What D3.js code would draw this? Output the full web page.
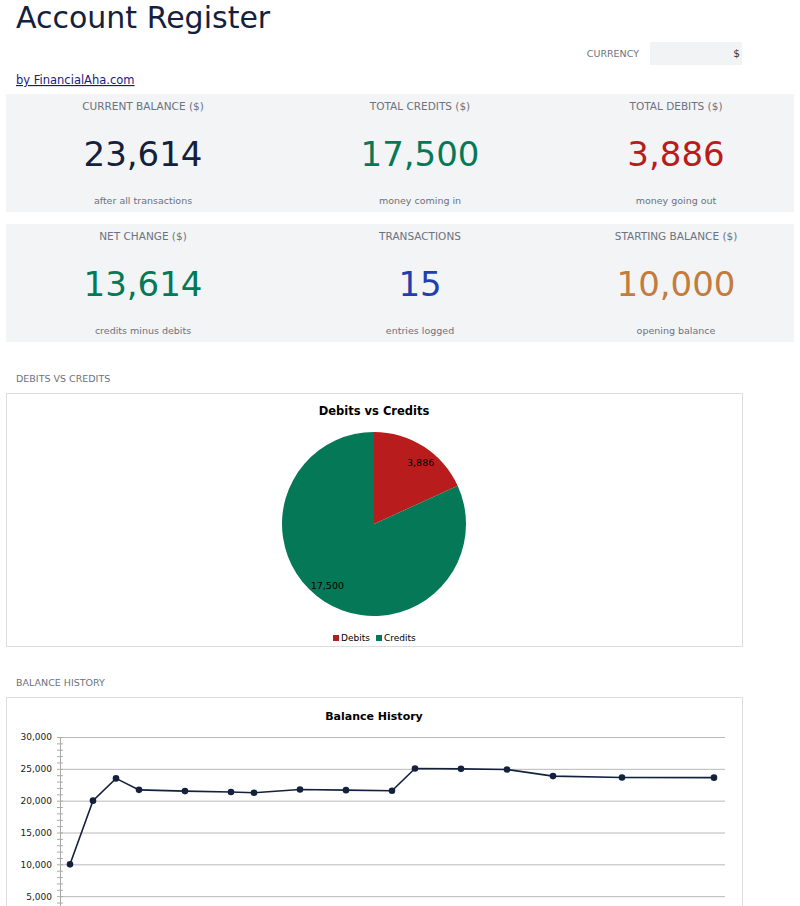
<!DOCTYPE html>
<html>
<head>
<meta charset="utf-8">
<script src="https://cdn.jsdelivr.net/npm/d3@7"></script>
<style>
body { margin: 0; background: #fff; overflow: hidden; font-family: "DejaVu Sans", sans-serif; }
</style>
</head>
<body>
<svg id="page" width="800" height="906"></svg>
<script>
// summary cards
const kpiLabels = ["CURRENT BALANCE ($)", "TOTAL CREDITS ($)", "TOTAL DEBITS ($)",
                   "NET CHANGE ($)", "TRANSACTIONS", "STARTING BALANCE ($)"];
const kpiValues = [23614, 17500, 3886, 13614, 15, 10000];
const kpiNotes = ["after all transactions", "money coming in", "money going out",
                  "credits minus debits", "entries logged", "opening balance"];
const kpiColors = ["#14213d", "#047857", "#b91c1c", "#047857", "#1e40af", "#c27c3e"];

// pie
const pieCategories = ["Debits", "Credits"];
const pieValues = [3886, 17500];
const pieColors = ["#b91c1c", "#047857"];

// balance history
const balanceDates = ["2024-01-01", "2024-01-02", "2024-01-03", "2024-01-04", "2024-01-06",
                      "2024-01-08", "2024-01-09", "2024-01-11", "2024-01-13", "2024-01-15",
                      "2024-01-16", "2024-01-18", "2024-01-20", "2024-01-22", "2024-01-25",
                      "2024-01-29"];
const balanceValues = [10000, 20000, 23500, 21700, 21500, 21350, 21250, 21750, 21650, 21550,
                       25050, 25000, 24900, 23860, 23650, 23614];
const yTicks = [5000, 10000, 15000, 20000, 25000, 30000];

const fmt = d3.format(",");
const gray = "#6b7280";
const svg = d3.select("#page");

// header
svg.append("text")
    .attr("x", 16).attr("y", 28)
    .attr("font-size", 30).attr("fill", "#14213d")
    .text("Account Register");

svg.append("text")
    .attr("x", 639).attr("y", 57)
    .attr("text-anchor", "end")
    .attr("font-size", 9.5).attr("fill", gray)
    .text("CURRENCY");
svg.append("rect")
    .attr("x", 650).attr("y", 42).attr("width", 92).attr("height", 23)
    .attr("fill", "#f1f3f5");
svg.append("text")
    .attr("x", 740).attr("y", 57)
    .attr("text-anchor", "end")
    .attr("font-size", 10.5).attr("fill", "#333")
    .text("$");

svg.append("text")
    .attr("x", 16).attr("y", 84)
    .attr("font-size", 11.5).attr("fill", "#1a1a80")
    .attr("text-decoration", "underline")
    .text("by FinancialAha.com");

// cards
const colX = [143, 420, 676];
[0, 1].forEach(function(r) {
    svg.append("rect")
        .attr("x", 6).attr("y", 94 + r * 130)
        .attr("width", 788).attr("height", 118)
        .attr("fill", "#f3f4f6");
});

const cards = svg.selectAll("g.card")
    .data(kpiLabels)
    .enter()
    .append("g")
    .attr("class", "card")
    .attr("transform", function(d, i) {
        return "translate(" + colX[i % 3] + "," + (94 + Math.floor(i / 3) * 130) + ")";
    })
    .attr("text-anchor", "middle");

cards.append("text")
    .attr("y", 16)
    .attr("font-size", 10.5).attr("fill", gray)
    .text(function(d) { return d; });
cards.append("text")
    .attr("y", 72)
    .attr("font-size", 34)
    .attr("fill", function(d, i) { return kpiColors[i]; })
    .text(function(d, i) { return fmt(kpiValues[i]); });
cards.append("text")
    .attr("y", 110)
    .attr("font-size", 9.5).attr("fill", gray)
    .text(function(d, i) { return kpiNotes[i]; });

// section labels
svg.append("text")
    .attr("x", 16).attr("y", 382)
    .attr("font-size", 9.5).attr("fill", gray)
    .text("DEBITS VS CREDITS");
svg.append("text")
    .attr("x", 16).attr("y", 686)
    .attr("font-size", 9.5).attr("fill", gray)
    .text("BALANCE HISTORY");

// pie chart
svg.append("rect")
    .attr("x", 6.5).attr("y", 393.5).attr("width", 736).attr("height", 253)
    .attr("fill", "#fff").attr("stroke", "#dcdcdc");
svg.append("text")
    .attr("x", 374).attr("y", 415)
    .attr("text-anchor", "middle")
    .attr("font-size", 11.5).attr("font-weight", "bold").attr("fill", "#000")
    .text("Debits vs Credits");

const radius = 92;
const pie = d3.pie().sort(null);
const arc = d3.arc().innerRadius(0).outerRadius(radius);
const pieG = svg.append("g").attr("transform", "translate(374,524)");

pieG.selectAll("path")
    .data(pie(pieValues))
    .enter()
    .append("path")
    .attr("d", arc)
    .attr("fill", function(d, i) { return pieColors[i]; });

// labels sit a little past the middle of each slice
function labelPos(d) {
    const a = (d.startAngle + d.endAngle) / 2 + 0.08;
    return [Math.sin(a) * 77, -Math.cos(a) * 77];
}
pieG.selectAll("text")
    .data(pie(pieValues))
    .enter()
    .append("text")
    .attr("transform", function(d) { return "translate(" + labelPos(d) + ")"; })
    .attr("text-anchor", "middle")
    .attr("dy", "0.35em")
    .attr("font-size", 9.5).attr("fill", "#000")
    .text(function(d) { return fmt(d.value); });

const legendX = [333, 376];
const legend = svg.selectAll("g.legend")
    .data(pieCategories)
    .enter()
    .append("g")
    .attr("class", "legend")
    .attr("transform", function(d, i) { return "translate(" + legendX[i] + ",638)"; });
legend.append("rect")
    .attr("x", 0).attr("y", -3).attr("width", 6).attr("height", 6)
    .attr("fill", function(d, i) { return pieColors[i]; });
legend.append("text")
    .attr("x", 8).attr("y", 3.3)
    .attr("font-size", 9).attr("fill", "#000")
    .text(function(d) { return d; });

// line chart
svg.append("rect")
    .attr("x", 6.5).attr("y", 697.5).attr("width", 736).attr("height", 300)
    .attr("fill", "#fff").attr("stroke", "#dcdcdc");
svg.append("text")
    .attr("x", 374).attr("y", 720)
    .attr("text-anchor", "middle")
    .attr("font-size", 11).attr("font-weight", "bold").attr("fill", "#000")
    .text("Balance History");

const parse = d3.timeParse("%Y-%m-%d");
const dates = balanceDates.map(parse);
const x = d3.scaleTime()
    .domain(d3.extent(dates))
    .range([70, 714]);
const y = d3.scaleLinear()
    .domain([0, 30000])
    .range([928, 737]);

// grid lines
svg.append("g")
    .attr("transform", "translate(60,0)")
    .call(d3.axisRight(y).tickValues(yTicks).tickSize(665).tickFormat(""))
    .call(function(g) { g.select(".domain").remove(); })
    .selectAll("line")
    .attr("stroke", "#b8b8b8");

// minor ticks across the axis
svg.append("g")
    .attr("transform", "translate(63,0)")
    .call(d3.axisLeft(y).tickValues(d3.range(0, 30001, 1000)).tickSize(6).tickFormat(""))
    .call(function(g) { g.select(".domain").remove(); })
    .selectAll("line")
    .attr("stroke", "#aaa");

// y axis with labels
const yAxis = svg.append("g")
    .attr("transform", "translate(60,0)")
    .call(d3.axisLeft(y).tickValues(yTicks).tickSize(0).tickPadding(8).tickFormat(fmt));
yAxis.select(".domain").attr("stroke", "#aaa");
yAxis.selectAll("text")
    .attr("font-family", "DejaVu Sans")
    .attr("font-size", 9)
    .attr("fill", "#222");

const line = d3.line()
    .x(function(d, i) { return x(dates[i]); })
    .y(function(d) { return y(d); });

svg.append("path")
    .datum(balanceValues)
    .attr("d", line)
    .attr("fill", "none")
    .attr("stroke", "#14213d")
    .attr("stroke-width", 1.6);

svg.selectAll("circle.pt")
    .data(balanceValues)
    .enter()
    .append("circle")
    .attr("class", "pt")
    .attr("cx", function(d, i) { return x(dates[i]); })
    .attr("cy", function(d) { return y(d); })
    .attr("r", 3.3)
    .attr("fill", "#14213d");
</script>
</body>
</html>
